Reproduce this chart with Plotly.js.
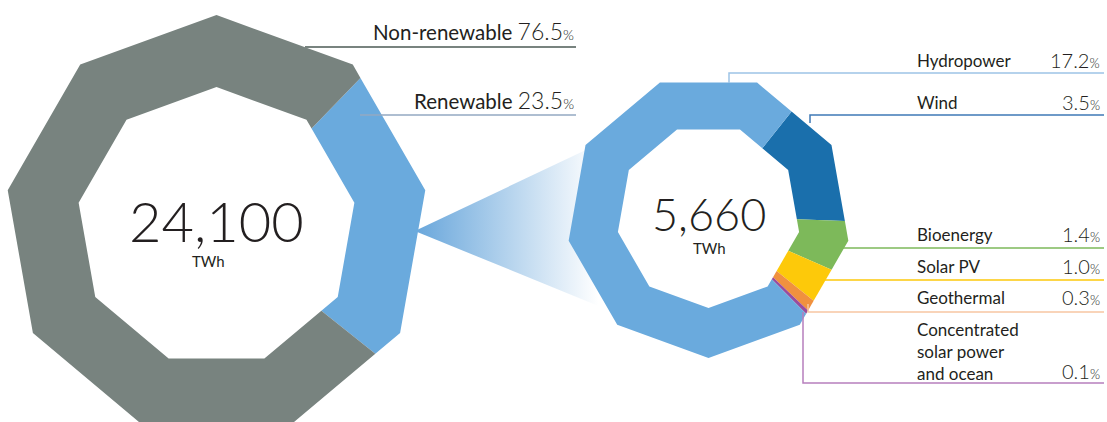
<!DOCTYPE html>
<html>
<head>
<meta charset="utf-8">
<script src="https://cdn.plot.ly/plotly-3.0.1.min.js"></script>
<style>
  html, body { margin: 0; padding: 0; background: #ffffff; }
  #chart { width: 1107px; height: 422px; }
</style>
</head>
<body>
<div id="chart"></div>
<script>
// ---------------- DATA ----------------
const totalCats = ['Renewable', 'Non-renewable'];
const totalShares = [23.5, 76.5];           // % of total electricity generation
const totalTWh = 24100;

const renewCats = ['Wind', 'Bioenergy', 'Solar PV', 'Geothermal', 'Concentrated solar power and ocean', 'Hydropower'];
const renewShares = [3.5, 1.4, 1.0, 0.3, 0.1, 17.2]; // % of total electricity generation
const renewTWh = 5660;

// ---------------- STYLE ----------------
const totalColors = ['#6aaadd', '#78837f'];
const renewColors = ['#1a6fac', '#7db95a', '#fdc90a', '#f0913f', '#9a4c9c', '#6aaadd'];
const lineColors = {
  'Non-renewable': '#78837f', 'Renewable': '#93a9c2',
  'Hydropower': '#9dc3e6', 'Wind': '#3f7ab6', 'Bioenergy': '#7db95a',
  'Solar PV': '#fdc90a', 'Geothermal': '#f8c6a3', 'Concentrated solar power and ocean': '#b77fbd'
};
const TXT = '#231f20';
const LABEL_FONT = 'Lato, "Open Sans", sans-serif';

// Geometry (pixel space, y downward)
const LEFT  = {cx: 216.5, cy: 227, R: 212, r: 140, n: 9, vertex0: 90,  start: 46};
const RIGHT = {cx: 708.5, cy: 216, R: 142, r: 92,  n: 9, vertex0: -90, start: 51.5};

function polyRadius(g, rad, thetaDeg) {
  const step = 360 / g.n;
  let d = ((thetaDeg - g.vertex0) % step + step) % step;
  const half = step / 2;
  return rad * Math.cos(half * Math.PI / 180) / Math.cos((d - half) * Math.PI / 180);
}
function pt(g, rad, th) {
  const rr = polyRadius(g, rad, th);
  return [g.cx + rr * Math.cos(th * Math.PI / 180), g.cy - rr * Math.sin(th * Math.PI / 180)];
}
function angleList(g, a, b) {
  const step = 360 / g.n;
  const list = [a];
  let k = Math.floor((a - g.vertex0) / step);
  let v = g.vertex0 + k * step;
  if (v >= a - 1e-9) v -= step;
  while (v > b + 1e-9) { list.push(v); v -= step; }
  list.push(b);
  return list;
}
function segmentTraces(g, shares, colors, names) {
  const total = shares.reduce((s, v) => s + v, 0);
  let a = g.start;
  const traces = [];
  shares.forEach((v, i) => {
    const sweep = v / total * 360;
    const b = a - sweep;
    const angs = angleList(g, a, b);
    const xs = [], ys = [];
    angs.forEach(t => { const p = pt(g, g.R, t); xs.push(p[0]); ys.push(p[1]); });
    angs.slice().reverse().forEach(t => { const p = pt(g, g.r, t); xs.push(p[0]); ys.push(p[1]); });
    xs.push(xs[0]); ys.push(ys[0]);
    traces.push({
      type: 'scatter', mode: 'lines', x: xs, y: ys, name: names[i],
      fill: 'toself', fillcolor: colors[i], line: {width: 0, color: colors[i]},
      hoverinfo: 'name', showlegend: false
    });
    a = b;
  });
  return traces;
}

// Connector wedge (gradient) from left ring to right ring
const tip = pt(LEFT, LEFT.R, 0);
const wedge = {
  type: 'scatter', mode: 'lines',
  x: [tip[0] - 4, RIGHT.cx - 110, RIGHT.cx - 110, tip[0] - 4],
  y: [tip[1] + 4, RIGHT.cy - 72, RIGHT.cy + 90, tip[1] + 4],
  fill: 'toself', line: {width: 0},
  fillgradient: {type: 'horizontal', colorscale: [[0, 'rgb(104,166,219)'], [1, 'rgba(255,255,255,1)']]},
  hoverinfo: 'skip', showlegend: false
};

const traces = [wedge]
  .concat(segmentTraces(LEFT, totalShares, totalColors, totalCats))
  .concat(segmentTraces(RIGHT, renewShares, renewColors, renewCats));

// ---------------- LABELS ----------------
const fmtNum = v => v.toLocaleString('en-US');
const pctText = (v, ps) => v.toFixed(1) + '<span style="font-size:' + ps + 'px">%</span>';

const annotations = [];
const shapes = [];

function addAnno(text, x, y, xanchor, size, weight) {
  annotations.push({
    text: text, x: x, y: y, xref: 'x', yref: 'y', xanchor: xanchor, yanchor: 'middle',
    showarrow: false, align: xanchor === 'right' ? 'right' : (xanchor === 'left' ? 'left' : 'center'),
    font: {family: LABEL_FONT, size: size, color: TXT, weight: weight}
  });
}
function addPath(d, color, w) {
  shapes.push({type: 'path', path: d, xref: 'x', yref: 'y', line: {color: color, width: w || 1.5}});
}

// Left labels
const leftLabelY = {'Non-renewable': 31, 'Renewable': 100};
const leftLineY = {'Non-renewable': 47, 'Renewable': 115};
const leftLineX0 = {'Non-renewable': 305, 'Renewable': 360};
totalCats.forEach((c, i) => {
  addAnno(c + ' <span style="font-size:23px;font-weight:300">' + pctText(totalShares[i], 14) + '</span>',
          576, leftLabelY[c], 'right', 20.5, 400);
  addPath('M' + leftLineX0[c] + ',' + leftLineY[c] + ' L576,' + leftLineY[c], lineColors[c], c === 'Non-renewable' ? 2 : 1.5);
});

// Right labels
const rightLayout = {
  'Hydropower': {ty: 60, ly: 73, path: 'M729,83 L729,73 L1104,73'},
  'Wind': {ty: 102, ly: 115, path: 'M810,123 L810,115 L1104,115'},
  'Bioenergy': {ty: 234, ly: 248, path: 'M843,248 L1104,248'},
  'Solar PV': {ty: 266, ly: 280, path: 'M821,280 L1104,280'},
  'Geothermal': {ty: 297, ly: 312, path: 'M808,304 L808,312 L1104,312'},
  'Concentrated solar power and ocean': {ty: 351, vy: 371, ly: 383, path: 'M803,312 L803,383 L1104,383'}
};
renewCats.forEach((c, i) => {
  const L = rightLayout[c];
  const label = c === 'Concentrated solar power and ocean' ? 'Concentrated<br>solar power<br>and ocean' : c;
  addAnno(label, 915, L.ty, 'left', 17, 400);
  addAnno(pctText(renewShares[i], 13), 1102, L.vy || L.ty, 'right', 20, 300);
  addPath(L.path, lineColors[c], 1.5);
});

// Centre totals
addAnno(fmtNum(totalTWh), LEFT.cx, 220, 'center', 56, 300);
addAnno('TWh', LEFT.cx - 8, 261, 'center', 15, 400);
addAnno(fmtNum(renewTWh), RIGHT.cx, 214, 'center', 45, 300);
addAnno('TWh', RIGHT.cx + 1, 248, 'center', 15, 400);

const layout = {
  width: 1107, height: 422,
  margin: {l: 0, r: 0, t: 0, b: 0},
  paper_bgcolor: '#ffffff', plot_bgcolor: '#ffffff',
  xaxis: {range: [0, 1107], visible: false, fixedrange: true},
  yaxis: {range: [422, 0], visible: false, fixedrange: true},
  showlegend: false,
  annotations: annotations,
  shapes: shapes
};

Plotly.newPlot('chart', traces, layout, {displayModeBar: false, staticPlot: true});
</script>
</body>
</html>
